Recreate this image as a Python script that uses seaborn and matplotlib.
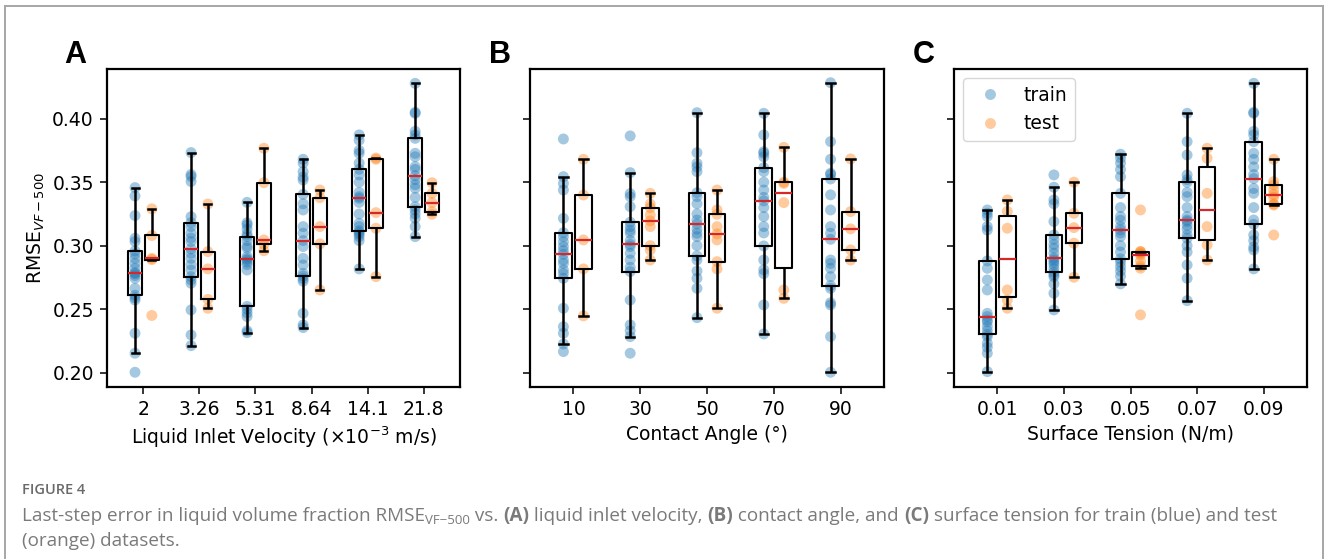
import matplotlib
matplotlib.use("Agg")
import matplotlib.pyplot as plt
from matplotlib.lines import Line2D
import numpy as np
import pandas as pd
import seaborn as sns

# ---------------------------------------------------------------------------
# Last-step liquid volume fraction error (RMSE_VF-500) per parameter level
# ---------------------------------------------------------------------------
velocity_labels = ["2", "3.26", "5.31", "8.64", "14.1", "21.8"]
velocity_train = [
    [0.2003, 0.2153, 0.2310, 0.2572, 0.2590, 0.2610, 0.2664, 0.2743, 0.2765, 0.2780, 0.2787,
     0.2822, 0.2861, 0.2900, 0.2935, 0.2958, 0.3032, 0.3058, 0.3237, 0.3391, 0.3457],
    [0.2213, 0.2297, 0.2494, 0.2704, 0.2730, 0.2756, 0.2808, 0.2850, 0.2900, 0.2940, 0.2975,
     0.3032, 0.3060, 0.3098, 0.3150, 0.3181, 0.3228, 0.3505, 0.3544, 0.3560, 0.3733],
    [0.2315, 0.2330, 0.2442, 0.2470, 0.2500, 0.2522, 0.2808, 0.2850, 0.2870, 0.2887, 0.2897,
     0.2914, 0.2980, 0.2995, 0.3040, 0.3072, 0.3090, 0.3130, 0.3163, 0.3180, 0.3341],
    [0.2355, 0.2376, 0.2467, 0.2720, 0.2740, 0.2761, 0.2782, 0.2848, 0.2900, 0.2993, 0.3040,
     0.3098, 0.3150, 0.3281, 0.3330, 0.3404, 0.3517, 0.3540, 0.3583, 0.3650, 0.3680],
    [0.2817, 0.3040, 0.3071, 0.3090, 0.3105, 0.3118, 0.3150, 0.3176, 0.3250, 0.3340, 0.3373,
     0.3386, 0.3420, 0.3500, 0.3557, 0.3601, 0.3650, 0.3727, 0.3750, 0.3830, 0.3872],
    [0.3071, 0.3150, 0.3216, 0.3250, 0.3281, 0.3307, 0.3380, 0.3452, 0.3480, 0.3520, 0.3551,
     0.3600, 0.3622, 0.3700, 0.3727, 0.3845, 0.3872, 0.3900, 0.4042, 0.4050, 0.4278],
]
velocity_test = [
    [0.2450, 0.2890, 0.2900, 0.3080, 0.3290],
    [0.2507, 0.2577, 0.2817, 0.2953, 0.3328],
    [0.2960, 0.3011, 0.3045, 0.3496, 0.3767],
    [0.2651, 0.3014, 0.3150, 0.3378, 0.3438],
    [0.2756, 0.3137, 0.3260, 0.3680, 0.3690],
    [0.3247, 0.3268, 0.3339, 0.3412, 0.3496],
]

angle_labels = ["10", "30", "50", "70", "90"]
angle_train = [
    [0.2166, 0.2226, 0.2310, 0.2362, 0.2507, 0.2743, 0.2780, 0.2808, 0.2860, 0.2887, 0.2932,
     0.2960, 0.2993, 0.3030, 0.3071, 0.3102, 0.3215, 0.3438, 0.3490, 0.3543, 0.3840],
    [0.2153, 0.2284, 0.2330, 0.2376, 0.2572, 0.2796, 0.2830, 0.2887, 0.2940, 0.2993, 0.3010,
     0.3040, 0.3098, 0.3120, 0.3150, 0.3184, 0.3307, 0.3386, 0.3410, 0.3575, 0.3864],
    [0.2433, 0.2664, 0.2743, 0.2800, 0.2887, 0.2919, 0.3000, 0.3071, 0.3098, 0.3130, 0.3171,
     0.3202, 0.3250, 0.3330, 0.3386, 0.3417, 0.3583, 0.3620, 0.3648, 0.3732, 0.4047],
    [0.2305, 0.2533, 0.2780, 0.2810, 0.2887, 0.2998, 0.3100, 0.3150, 0.3229, 0.3300, 0.3352,
     0.3380, 0.3438, 0.3500, 0.3583, 0.3614, 0.3700, 0.3727, 0.3740, 0.3872, 0.4042],
    [0.2003, 0.2284, 0.2533, 0.2550, 0.2664, 0.2686, 0.2756, 0.2822, 0.2860, 0.2887, 0.3050,
     0.3098, 0.3150, 0.3281, 0.3400, 0.3525, 0.3560, 0.3570, 0.3680, 0.3819, 0.4283],
]
angle_test = [
    [0.2447, 0.2817, 0.3045, 0.3399, 0.3680],
    [0.2887, 0.2966, 0.3000, 0.3150, 0.3195, 0.3242, 0.3299, 0.3328, 0.3412],
    [0.2507, 0.2817, 0.2874, 0.3045, 0.3093, 0.3150, 0.3247, 0.3281, 0.3438],
    [0.2585, 0.2651, 0.3339, 0.3490, 0.3500, 0.3774],
    [0.2887, 0.2966, 0.3132, 0.3268, 0.3683],
]

tension_labels = ["0.01", "0.03", "0.05", "0.07", "0.09"]
tension_train = [
    [0.2008, 0.2153, 0.2200, 0.2231, 0.2284, 0.2302, 0.2330, 0.2363, 0.2400, 0.2415, 0.2442,
     0.2467, 0.2651, 0.2730, 0.2822, 0.2880, 0.3123, 0.3150, 0.3230, 0.3255, 0.3281],
    [0.2494, 0.2625, 0.2700, 0.2756, 0.2770, 0.2790, 0.2820, 0.2850, 0.2870, 0.2887, 0.2903,
     0.2940, 0.2980, 0.3010, 0.3050, 0.3084, 0.3190, 0.3330, 0.3360, 0.3460, 0.3557],
    [0.2699, 0.2760, 0.2800, 0.2835, 0.2870, 0.2896, 0.2950, 0.3000, 0.3071, 0.3100, 0.3124,
     0.3150, 0.3200, 0.3230, 0.3300, 0.3412, 0.3543, 0.3600, 0.3650, 0.3690, 0.3720],
    [0.2567, 0.2743, 0.2848, 0.2950, 0.3000, 0.3058, 0.3084, 0.3130, 0.3160, 0.3190, 0.3202,
     0.3229, 0.3300, 0.3386, 0.3420, 0.3499, 0.3520, 0.3557, 0.3714, 0.3819, 0.4042],
    [0.2817, 0.2966, 0.2990, 0.3040, 0.3084, 0.3168, 0.3202, 0.3300, 0.3412, 0.3450, 0.3528,
     0.3560, 0.3620, 0.3680, 0.3727, 0.3819, 0.3872, 0.3900, 0.4042, 0.4050, 0.4278],
]
tension_test = [
    [0.2507, 0.2572, 0.2651, 0.3137, 0.3270, 0.3360],
    [0.2751, 0.3019, 0.3142, 0.3255, 0.3500],
    [0.2455, 0.2822, 0.2840, 0.2880, 0.2927, 0.2940, 0.2953, 0.2953, 0.3281],
    [0.2887, 0.3006, 0.3150, 0.3412, 0.3688, 0.3767],
    [0.3084, 0.3320, 0.3328, 0.3380, 0.3402, 0.3438, 0.3478, 0.3504, 0.3680],
]

y_ticks = [0.20, 0.25, 0.30, 0.35, 0.40]

# ---------------------------------------------------------------------------
plt.rcParams.update({
    "font.family": ["DejaVu Sans"],
    "font.size": 13.5,
    "axes.linewidth": 1.6,
    "xtick.major.size": 4.8,
    "ytick.major.size": 4.8,
    "xtick.major.width": 1.1,
    "ytick.major.width": 1.1,
    "xtick.major.pad": 4.7,
    "ytick.major.pad": 4.7,
    "legend.fontsize": 13.5,
})

W, H = 1328, 559
fig = plt.figure(figsize=(W / 100, H / 100), dpi=100)


def px_axes(left, top, right, bottom, **kw):
    return fig.add_axes([left / W, 1 - bottom / H, (right - left) / W, (bottom - top) / H], **kw)


ax_a = px_axes(107, 69, 460, 387)
ax_b = px_axes(530, 69, 884, 387, sharey=ax_a)
ax_c = px_axes(954, 69, 1307, 387, sharey=ax_a)

split_order = ["train", "test"]
split_colors = {"train": "tab:blue", "test": "tab:orange"}
split_shift = {"train": -0.15, "test": 0.15}


def long_table(train, test):
    rows = []
    for i, (tr, te) in enumerate(zip(train, test)):
        rows += [(i, "train", v) for v in tr]
        rows += [(i, "test", v) for v in te]
    df = pd.DataFrame(rows, columns=["level", "split", "rmse"])
    df["xpos"] = df["level"] + df["split"].map(split_shift)
    return df


def draw_panel(ax, labels, train, test, xlabel, show_legend=False):
    df = long_table(train, test)
    sns.scatterplot(data=df, x="xpos", y="rmse", hue="split", hue_order=split_order,
                    palette=split_colors, s=62, alpha=0.4, edgecolor="none",
                    legend=show_legend, ax=ax, zorder=1)
    sns.boxplot(data=df, x="level", y="rmse", hue="split", hue_order=split_order,
                native_scale=True, dodge=True, width=0.6, gap=1 / 6, fill=False,
                showfliers=False, whis=1.5, legend=False, ax=ax,
                boxprops={"color": "black", "linewidth": 1.5},
                whiskerprops={"color": "black", "linewidth": 1.8},
                capprops={"color": "black", "linewidth": 1.8},
                medianprops={"color": "tab:red", "linewidth": 1.6})
    n = len(labels)
    ax.set_xticks(range(n), labels)
    ax.set_xlim(-0.65, n - 1 + 0.65)
    ax.set_xlabel(xlabel)
    ax.set_ylabel("")
    if show_legend:
        sns.move_legend(ax, "upper left", title=None, borderaxespad=0.5)


draw_panel(ax_a, velocity_labels, velocity_train, velocity_test,
           r"Liquid Inlet Velocity ($\times10^{-3}$ m/s)")
draw_panel(ax_b, angle_labels, angle_train, angle_test, "Contact Angle (°)")
draw_panel(ax_c, tension_labels, tension_train, tension_test, "Surface Tension (N/m)",
           show_legend=True)

ax_a.set_ylim(0.1887, 0.4391)
ax_a.set_yticks(y_ticks, [f"{t:.2f}" for t in y_ticks])
ax_a.set_ylabel(r"RMSE$_{VF-500}$")
for ax in (ax_b, ax_c):
    ax.tick_params(labelleft=False)

# Panel letters
for letter, xpx in (("A", 64), ("B", 489), ("C", 913)):
    fig.text(xpx / W, 1 - 63 / H, letter, fontsize=22, fontweight="bold",
             family=["Liberation Sans", "DejaVu Sans"], va="baseline", ha="left")

# Outer frame of the figure panel
frame_kw = dict(color="#a6a6a6", linewidth=1.4, transform=fig.transFigure)
fig.add_artist(Line2D([5 / W, 5 / W], [0, 1 - 6 / H], **frame_kw))
fig.add_artist(Line2D([5 / W, 1323 / W], [1 - 6 / H, 1 - 6 / H], **frame_kw))
fig.add_artist(Line2D([1323 / W, 1323 / W], [0, 1 - 6 / H], **frame_kw))

# Caption
cap_family = ["Open Sans", "DejaVu Sans"]
cap_color = "#7a7a7a"
cap_size = 13.6
renderer = fig.canvas.get_renderer()


def text_runs(x_px, y_px, runs):
    x = x_px
    for txt, weight, size, dy in runs:
        t = fig.text(x / W, 1 - (y_px - dy) / H, txt, fontsize=size, fontweight=weight,
                     family=cap_family, color=cap_color, va="baseline", ha="left")
        x += t.get_window_extent(renderer).width


fig.text(22 / W, 1 - 494 / H, "FIGURE 4", fontsize=10.5, fontweight="semibold",
         family=cap_family, color="#6a6a6a", va="baseline", ha="left")
text_runs(22, 521, [
    ("Last-step error in liquid volume fraction RMSE", "normal", cap_size, 0),
    ("VF\u2212500", "normal", cap_size * 0.7, -3),
    (" vs. ", "normal", cap_size, 0),
    ("(A)", "bold", cap_size, 0),
    (" liquid inlet velocity, ", "normal", cap_size, 0),
    ("(B)", "bold", cap_size, 0),
    (" contact angle, and ", "normal", cap_size, 0),
    ("(C)", "bold", cap_size, 0),
    (" surface tension for train (blue) and test", "normal", cap_size, 0),
])
text_runs(22, 546, [("(orange) datasets.", "normal", cap_size, 0)])

fig.savefig("out.png", dpi=100)
